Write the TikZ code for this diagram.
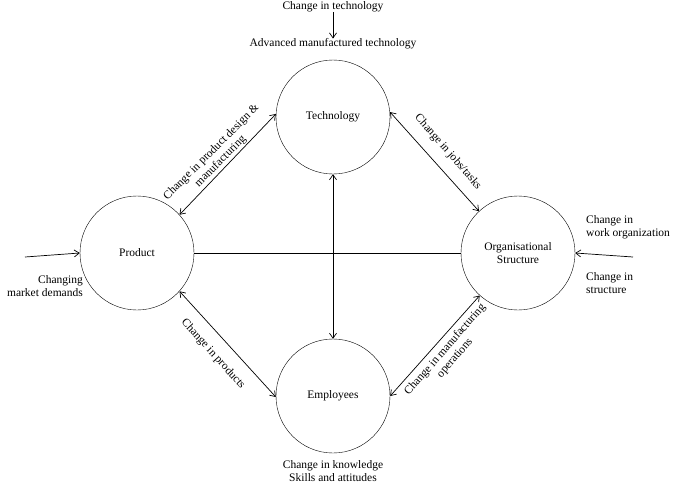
\documentclass[tikz,border=0pt]{standalone}
\usepackage{fontspec}
\setmainfont{Liberation Serif}
\usetikzlibrary{arrows.meta}
\begin{document}
\begin{tikzpicture}[x=1pt,y=-1pt,
  circ/.style={draw,circle,minimum size=114pt,inner sep=0pt,align=center,font=\fontsize{11.5}{13}\selectfont},
  lbl/.style={font=\fontsize{11.5}{13}\selectfont,inner sep=0pt,align=center},
  arr/.style={-{Straight Barb[length=5pt,width=7pt]},line width=0.7pt},
  darr/.style={{Straight Barb[length=5pt,width=7pt]}-{Straight Barb[length=5pt,width=7pt]},line width=0.7pt}]
\useasboundingbox (0,0) rectangle (673,485);
\node[circ] (T) at (333,117) {Technology};
\node[circ] (P) at (137,253) {Product};
\node[circ] (O) at (518,253) {Organisational\\Structure};
\node[circ] (E) at (333,396) {Employees};

\draw[darr] (P.42) -- (T.177);
\draw[darr] (T.5) -- (O.133);
\draw[darr] (P.-42) -- (E.181);
\draw[darr] (E.0) -- (O.-132);
\draw[darr] (T.south) -- (E.north);
\draw[line width=0.7pt] (P.east) -- (O.west);

\node[lbl] (top) at (333,6.5) {Change in technology};
\node[lbl] (amt) at (333,44) {Advanced manufactured technology};
\draw[arr] (top.south) -- (amt.north);

\node[lbl] (bot) at (333,471) {Change in knowledge\\Skills and attitudes};

\coordinate (lin) at (25,257);
\draw[arr] (lin) -- (P.west);
\node[lbl,align=right,anchor=east] (cmd) at (83,286) {Changing\\market demands};

\coordinate (rin) at (633,257);
\draw[arr] (rin) -- (O.east);
\node[lbl,align=left,anchor=west] (cwo) at (586,227) {Change in\\work organization};
\node[lbl,align=left,anchor=west] (cst) at (586,283) {Change in\\structure};

\node[lbl,rotate=45] (l1) at (216,157) {Change in product design \&\\manufacturing};
\node[lbl,rotate=-49] (l2) at (448,152) {Change in jobs/tasks};
\node[lbl,rotate=-48] (l3) at (213,354) {Change in products};
\node[lbl,rotate=49] (l4) at (450,354) {Change in manufacturing\\operations};
\end{tikzpicture}
\end{document}
